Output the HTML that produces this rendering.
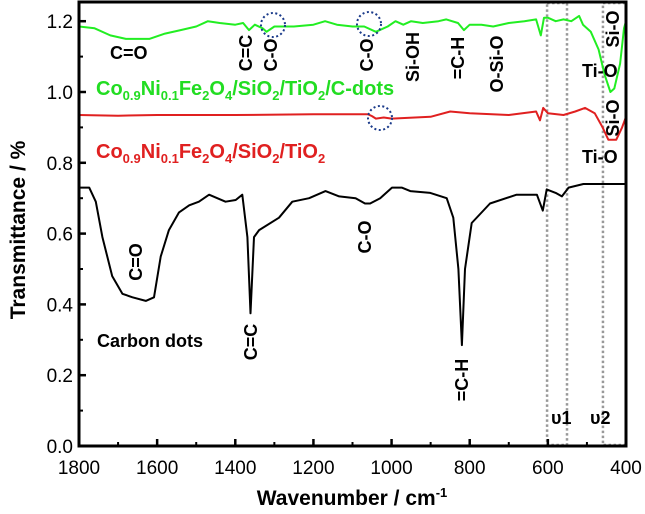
<!DOCTYPE html>
<html><head><meta charset="utf-8"><style>
body{margin:0;background:#fff}
svg{display:block;font-family:"Liberation Sans",Arial,sans-serif}
.lb{font-weight:bold;font-size:18px;fill:#000}
</style></head><body>
<svg id="c" width="645" height="514" viewBox="0 0 645 514" style="position:absolute;left:0;top:0">
<g id="plot"></g>
</svg>
<script>
const greenW=[1800,1760,1720,1680,1620,1580,1540,1500,1470,1440,1400,1380,1365,1350,1330,1320,1300,1250,1200,1170,1140,1100,1070,1040,1010,990,970,950,920,880,860,830,815,800,770,740,700,660,630,618,610,600,580,560,540,520,510,490,470,455,440,430,415,405,400];
const greenT=[1.185,1.18,1.16,1.15,1.15,1.165,1.175,1.185,1.2,1.195,1.19,1.195,1.175,1.19,1.18,1.17,1.185,1.185,1.19,1.2,1.19,1.185,1.185,1.17,1.185,1.2,1.19,1.2,1.195,1.2,1.205,1.195,1.175,1.19,1.19,1.185,1.195,1.2,1.205,1.16,1.21,1.21,1.2,1.205,1.2,1.215,1.19,1.17,1.12,1.05,1.0,1.01,1.08,1.18,1.2];
const redW=[1800,1700,1600,1400,1200,1060,1050,1040,1020,1000,900,850,800,700,630,620,612,600,560,530,505,480,460,445,425,410,400];
const redT=[0.935,0.933,0.935,0.935,0.937,0.937,0.932,0.925,0.928,0.925,0.93,0.945,0.94,0.935,0.945,0.92,0.955,0.94,0.935,0.945,0.955,0.94,0.9,0.865,0.865,0.9,0.93];
const blackW=[1800,1774,1757,1740,1715,1689,1663,1629,1608,1591,1570,1544,1518,1493,1467,1425,1399,1382,1369,1361,1352,1339,1288,1254,1211,1169,1134,1092,1068,1055,1029,999,974,952,901,859,842,829,820,812,795,748,680,628,613,603,580,564,547,509,415,400];
const blackT=[0.73,0.73,0.69,0.59,0.48,0.43,0.42,0.41,0.42,0.535,0.61,0.66,0.68,0.69,0.71,0.69,0.695,0.71,0.59,0.375,0.59,0.61,0.645,0.69,0.70,0.72,0.705,0.70,0.685,0.685,0.70,0.73,0.73,0.72,0.715,0.70,0.645,0.50,0.285,0.50,0.63,0.685,0.71,0.71,0.665,0.725,0.715,0.705,0.73,0.74,0.74,0.74];
const xTicks=[1800,1600,1400,1200,1000,800,600,400];
const yTicks=[0.0,0.2,0.4,0.6,0.8,1.0,1.2];
const L=79,R=626,T=2,B=446;
const X=w=>L+(1800-w)*(R-L)/1400;
function Yv(v){return B-v*354;}
const NS="http://www.w3.org/2000/svg";
const g=document.getElementById('plot');
function el(t,a,txt){const e=document.createElementNS(NS,t);for(const k in a)e.setAttribute(k,a[k]);if(txt!==undefined)e.textContent=txt;g.appendChild(e);return e;}
[[602,551,'v1-region-box'],[459,400,'v2-region-box']].forEach(b=>{
const e=el('rect',{x:X(b[0]),y:T+1,width:X(b[1])-X(b[0]),height:B-T-2,fill:'none',stroke:'#999','stroke-width':2.5,'stroke-dasharray':'2.5,2.5'});


});
function line(W,V,col,name){
const e=el('polyline',{points:W.map((w,i)=>X(w).toFixed(1)+','+Yv(V[i]).toFixed(1)).join(' '),fill:'none',stroke:col,'stroke-width':2,'stroke-linejoin':'round'});


}
line(blackW,blackT,'#000','series-carbon-dots');
line(redW,redT,'#e02020','series-cnf-sio2-tio2');
line(greenW,greenT,'#22ee22','series-cnf-sio2-tio2-cdots');
const f=el('rect',{x:L,y:T,width:R-L,height:B-T,fill:'none',stroke:'#000','stroke-width':3});


xTicks.forEach(w=>{
const t=el('line',{x1:X(w),x2:X(w),y1:B,y2:B-7,stroke:'#000','stroke-width':2.5});


const m=el('line',{x1:X(w-100),x2:X(w-100),y1:B,y2:B-4,stroke:'#000','stroke-width':2});


const l=el('text',{x:X(w),y:B+28,'text-anchor':'middle','font-size':19},String(w));


});
yTicks.forEach(v=>{
const t=el('line',{x1:L,x2:L+7,y1:Yv(v),y2:Yv(v),stroke:'#000','stroke-width':2.5});


if(v<1.2){const m=el('line',{x1:L,x2:L+4,y1:Yv(v+0.1),y2:Yv(v+0.1),stroke:'#000','stroke-width':2});

}
const l=el('text',{x:L-6,y:Yv(v)+7,'text-anchor':'end','font-size':19},v.toFixed(1));


});
</script>
<svg width="645" height="514" style="position:absolute;left:0;top:0" viewBox="0 0 645 514">
<text x="352" y="505" text-anchor="middle" font-size="21" font-weight="bold">Wavenumber / cm<tspan font-size="13" dy="-8">-1</tspan></text>
<text transform="translate(25,230) rotate(-90)" text-anchor="middle" font-size="21" font-weight="bold">Transmittance / %</text>
<g fill="none" stroke="#1a3a8a" stroke-width="2" stroke-dasharray="2,2.5">
<circle cx="273" cy="25" r="12"/><circle cx="369" cy="24" r="12"/><circle cx="380" cy="118" r="12"/>
</g>
<text x="96" y="95" font-weight="bold" font-size="20" fill="#22dd22">Co<tspan font-size="13" dy="5">0.9</tspan><tspan dy="-5">Ni</tspan><tspan font-size="13" dy="5">0.1</tspan><tspan dy="-5">Fe</tspan><tspan font-size="13" dy="5">2</tspan><tspan dy="-5">O</tspan><tspan font-size="13" dy="5">4</tspan><tspan dy="-5">/SiO</tspan><tspan font-size="13" dy="5">2</tspan><tspan dy="-5">/TiO</tspan><tspan font-size="13" dy="5">2</tspan><tspan dy="-5">/C-dots</tspan></text>
<text x="96" y="158" font-weight="bold" font-size="20" fill="#e02020">Co<tspan font-size="13" dy="5">0.9</tspan><tspan dy="-5">Ni</tspan><tspan font-size="13" dy="5">0.1</tspan><tspan dy="-5">Fe</tspan><tspan font-size="13" dy="5">2</tspan><tspan dy="-5">O</tspan><tspan font-size="13" dy="5">4</tspan><tspan dy="-5">/SiO</tspan><tspan font-size="13" dy="5">2</tspan><tspan dy="-5">/TiO</tspan><tspan font-size="13" dy="5">2</tspan></text>
<g>
<text class="lb" x="110" y="59">C=O</text>
<text class="lb" text-anchor="middle" transform="translate(252,53) rotate(-90)">C=C</text>
<text class="lb" text-anchor="middle" transform="translate(277,55) rotate(-90)">C-O</text>
<text class="lb" text-anchor="middle" transform="translate(373,55) rotate(-90)">C-O</text>
<text class="lb" text-anchor="middle" transform="translate(419,57) rotate(-90)">Si-OH</text>
<text class="lb" text-anchor="middle" transform="translate(464,58) rotate(-90)">=C-H</text>
<text class="lb" text-anchor="middle" transform="translate(503,64) rotate(-90)">O-Si-O</text>
<text class="lb" x="582" y="77">Ti-O</text>
<text class="lb" text-anchor="middle" transform="translate(619,29) rotate(-90)">Si-O</text>
<text class="lb" text-anchor="middle" transform="translate(619,118) rotate(-90)">Si-O</text>
<text class="lb" x="582" y="163">Ti-O</text>
<text class="lb" text-anchor="middle" transform="translate(142,262) rotate(-90)">C=O</text>
<text class="lb" text-anchor="middle" transform="translate(257,342) rotate(-90)">C=C</text>
<text class="lb" text-anchor="middle" transform="translate(371,237) rotate(-90)">C-O</text>
<text class="lb" text-anchor="middle" transform="translate(468,380) rotate(-90)">=C-H</text>
<text class="lb" x="97" y="347">Carbon dots</text>
<text class="lb" x="551" y="424">υ1</text>
<text class="lb" x="590" y="424">υ2</text>
</g>
</svg>
</body></html>
